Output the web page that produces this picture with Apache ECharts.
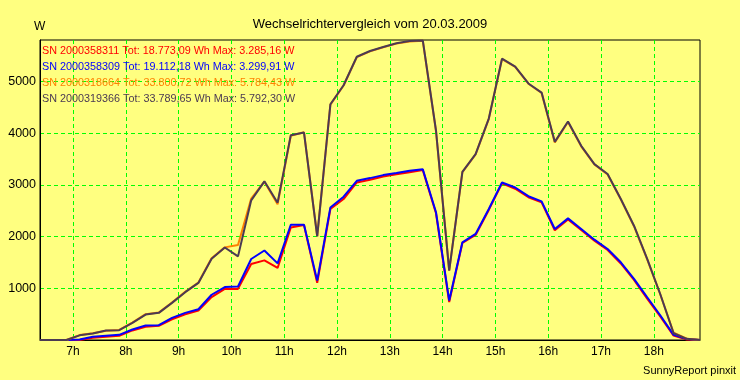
<!DOCTYPE html>
<html>
<head>
<meta charset="utf-8">
<script src="https://cdn.jsdelivr.net/npm/echarts@6/dist/echarts.min.js"></script>
<style>
html,body{margin:0;padding:0;background:#FFFF80;}
#c{width:740px;height:380px;}
</style>
</head>
<body>
<div id="c"></div>
<script>
// time of each 15-minute sample, decimal hours
const times = [6.375, 6.625, 6.875, 7.125, 7.375, 7.625, 7.875, 8.125, 8.375, 8.625,
  8.875, 9.125, 9.375, 9.625, 9.875, 10.125, 10.375, 10.625, 10.875, 11.125,
  11.375, 11.625, 11.875, 12.125, 12.375, 12.625, 12.875, 13.125, 13.375, 13.625,
  13.875, 14.125, 14.375, 14.625, 14.875, 15.125, 15.375, 15.625, 15.875, 16.125,
  16.375, 16.625, 16.875, 17.125, 17.375, 17.625, 17.875, 18.125, 18.375, 18.625, 18.875];

const hourTicks = [7, 8, 9, 10, 11, 12, 13, 14, 15, 16, 17, 18];
const powerTicks = [1000, 2000, 3000, 4000, 5000];

const serials = ['2000358311', '2000358309', '2000318664', '2000319366'];
const totals = ['18.773,09', '19.112,18', '33.800,72', '33.789,65'];
const maxima = ['3.285,16', '3.299,91', '5.784,43', '5.792,30'];

const sn311 = [0, 0, 0, 0, 45, 65, 80, 185, 255, 275,
  400, 495, 570, 830, 988, 988, 1470, 1540, 1393, 2177,
  2223, 1104, 2532, 2725, 3046, 3100, 3160, 3205, 3245, 3285,
  2450, 735, 1875, 2030, 2515, 3030, 2925, 2760, 2660, 2120,
  2330, 2125, 1920, 1740, 1480, 1160, 800, 450, 85, 10, 0];

const sn309 = [0, 0, 0, 10, 62, 81, 100, 203, 280, 286,
  428, 525, 595, 875, 1023, 1035, 1566, 1730, 1482, 2229,
  2229, 1148, 2563, 2770, 3078, 3130, 3188, 3227, 3271, 3300,
  2470, 762, 1888, 2050, 2532, 3046, 2949, 2780, 2680, 2146,
  2351, 2146, 1940, 1760, 1502, 1181, 826, 473, 100, 20, 0];

const sn664 = [0, 0, 0, 95, 130, 180, 195, 335, 500, 530,
  725, 930, 1110, 1580, 1791, 1835, 2735, 3060, 2625, 3950,
  4015, 2010, 4550, 4920, 5470, 5580, 5660, 5730, 5770, 5784,
  4040, 1345, 3245, 3590, 4275, 5430, 5280, 4955, 4775, 3820,
  4215, 3745, 3395, 3200, 2720, 2200, 1560, 875, 140, 25, 0];

const sn366 = [0, 0, 0, 90, 125, 183, 190, 330, 492, 525,
  718, 925, 1104, 1570, 1788, 1617, 2700, 3068, 2655, 3960,
  4011, 2004, 4558, 4925, 5477, 5587, 5665, 5736, 5780, 5792,
  4050, 1341, 3252, 3594, 4281, 5439, 5284, 4960, 4783, 3831,
  4223, 3754, 3400, 3208, 2725, 2210, 1567, 880, 131, 23, 0];

const seriesValues = [sn311, sn309, sn664, sn366];
const colors = ['#FF0000', '#0000FF', '#FF8000', '#4B3A52'];

const FONT = 'Liberation Sans, Arial, sans-serif';
const names = serials.map((s, i) => 'SN ' + s + ' Tot: ' + totals[i] + ' Wh Max: ' + maxima[i] + ' W');

const chart = echarts.init(document.getElementById('c'), null, {renderer: 'canvas'});
chart.setOption({
  animation: false,
  backgroundColor: '#FFFF80',
  textStyle: {fontFamily: FONT},
  title: {
    text: 'Wechselrichtervergleich vom 20.03.2009',
    left: 'center',
    top: 13,
    textStyle: {fontFamily: FONT, fontSize: 13, fontWeight: 'normal', color: '#000'}
  },
  legend: {
    orient: 'vertical',
    left: 37,
    top: 44.5,
    padding: 0,
    itemGap: 3,
    itemWidth: 0,
    itemHeight: 13,
    icon: 'none',
    selectedMode: false,
    itemStyle: {opacity: 0},
    lineStyle: {opacity: 0},
    textStyle: {fontFamily: FONT, fontSize: 10.8, lineHeight: 13},
    data: names.map((n, i) => ({name: n, textStyle: {color: colors[i]}}))
  },
  graphic: [
    {type: 'text', left: 34, top: 21, style: {text: 'W', font: '12px ' + FONT, fill: '#000'}},
    {type: 'text', right: 4, top: 365, style: {text: 'SunnyReport pinxit', font: '11px ' + FONT, fill: '#000'}}
  ],
  grid: {
    left: 40, right: 40, top: 40, bottom: 40,
    show: true, borderColor: '#000', borderWidth: 1, backgroundColor: '#FFFF80'
  },
  xAxis: {
    type: 'value',
    min: 6.375,
    max: 18.875,
    axisLine: {show: true, lineStyle: {color: '#000', width: 1}},
    axisTick: {show: false, customValues: hourTicks},
    axisLabel: {
      customValues: hourTicks,
      formatter: v => v + 'h',
      color: '#000', fontSize: 12, fontFamily: FONT, margin: 6
    },
    splitLine: {show: true, lineStyle: {color: '#00FF00', type: [4, 3], width: 1}}
  },
  yAxis: {
    type: 'value',
    min: 0,
    max: 5800,
    axisLine: {show: true, lineStyle: {color: '#000', width: 1}},
    axisTick: {show: false, customValues: powerTicks},
    axisLabel: {
      customValues: powerTicks,
      formatter: v => String(v),
      color: '#000', fontSize: 12.5, fontFamily: FONT, margin: 4
    },
    splitLine: {show: true, lineStyle: {color: '#00FF00', type: [4, 3], width: 1}}
  },
  series: seriesValues.map((vals, i) => ({
    name: names[i],
    type: 'line',
    symbol: 'none',
    showSymbol: false,
    color: colors[i],
    lineStyle: {color: colors[i], width: 2},
    data: vals.map((v, k) => [times[k], v]),
    z: 2 + i
  }))
});
</script>
</body>
</html>
